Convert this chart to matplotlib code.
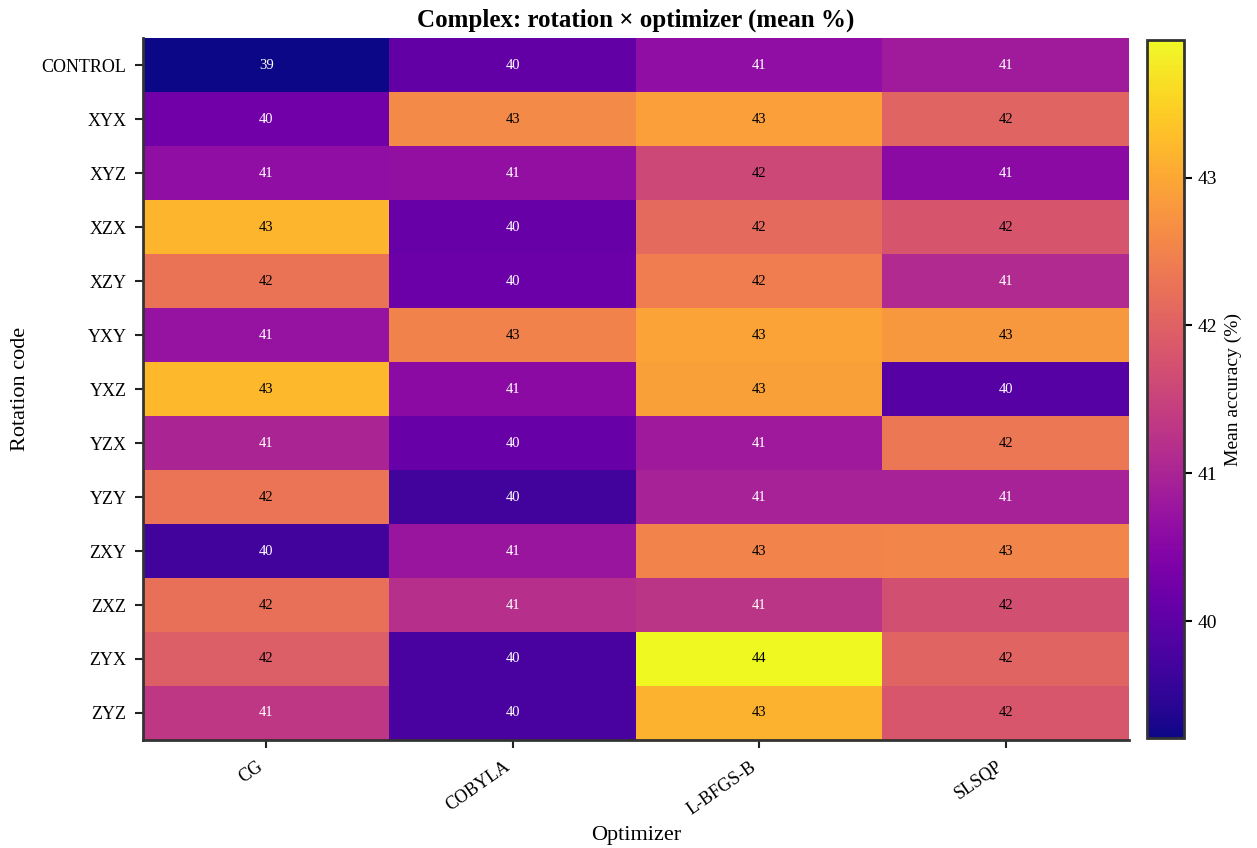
"""Heatmap of mean accuracy per rotation code and optimizer."""

import numpy as np
import matplotlib
matplotlib.use("Agg")
import matplotlib.pyplot as plt

plt.rcParams['font.family'] = ['Liberation Serif', 'DejaVu Serif']

rotations = ['CONTROL', 'XYX', 'XYZ', 'XZX', 'XZY', 'YXY', 'YXZ',
             'YZX', 'YZY', 'ZXY', 'ZXZ', 'ZYX', 'ZYZ']
optimizers = ['CG', 'COBYLA', 'L-BFGS-B', 'SLSQP']

# mean accuracy (%), columns: CG, COBYLA, L-BFGS-B, SLSQP
cg = [39.21, 40.25, 40.63, 43.17, 42.28, 40.72, 43.22, 41.00, 42.30, 39.70, 42.23, 41.95, 41.33]
cobyla = [40.06, 42.61, 40.65, 40.15, 40.17, 42.51, 40.58, 40.15, 39.70, 40.77, 41.20, 39.78, 39.78]
lbfgsb = [40.63, 42.89, 41.60, 42.14, 42.42, 42.94, 42.90, 40.82, 40.96, 42.52, 41.28, 43.93, 43.13]
slsqp = [40.86, 42.04, 40.58, 41.80, 41.10, 42.80, 39.92, 42.33, 40.95, 42.53, 41.71, 42.04, 41.81]

data = np.column_stack([cg, cobyla, lbfgsb, slsqp])

fig = plt.figure(figsize=(12.57, 8.48), dpi=100)
ax = fig.add_axes([0.1138, 0.1274, 0.7844, 0.8276])
cax = fig.add_axes([0.9125, 0.1297, 0.0294, 0.8231])

vmin, vmax = data.min(), data.max()
im = ax.imshow(data, cmap='plasma', aspect='auto', vmin=vmin, vmax=vmax,
               interpolation='nearest')

mid = (vmin + vmax) / 2
for i in range(data.shape[0]):
    for j in range(data.shape[1]):
        v = data[i, j]
        ax.text(j, i, f"{v:.0f}", ha='center', va='center', fontsize=10.5,
                color='black' if v > mid else 'white')

ax.set_xticks(range(len(optimizers)))
ax.set_xticklabels(optimizers, rotation=35, ha='right', fontsize=13)
ax.set_yticks(range(len(rotations)))
ax.set_yticklabels(rotations, fontsize=13)
ax.tick_params(axis='both', length=6, width=1.5, color='#222222')
ax.tick_params(axis='x', pad=7)
ax.tick_params(axis='y', pad=6)
ax.set_xlabel('Optimizer', fontsize=16, labelpad=6)
ax.set_ylabel('Rotation code', fontsize=16, labelpad=8)
ax.set_title('Complex: rotation × optimizer (mean %)', fontsize=18,
             fontweight='bold', pad=8)

for side in ['top', 'right']:
    ax.spines[side].set_visible(False)
for side in ['left', 'bottom']:
    ax.spines[side].set_linewidth(2)
    ax.spines[side].set_color('#333333')

cb = fig.colorbar(im, cax=cax)
cb.set_ticks([40, 41, 42, 43])
cb.ax.tick_params(labelsize=14, length=6, width=1.5)
cb.outline.set_linewidth(2)
cb.outline.set_edgecolor('#333333')
cb.set_label('Mean accuracy (%)', fontsize=14, labelpad=6)

fig.savefig('out.png', dpi=100)
